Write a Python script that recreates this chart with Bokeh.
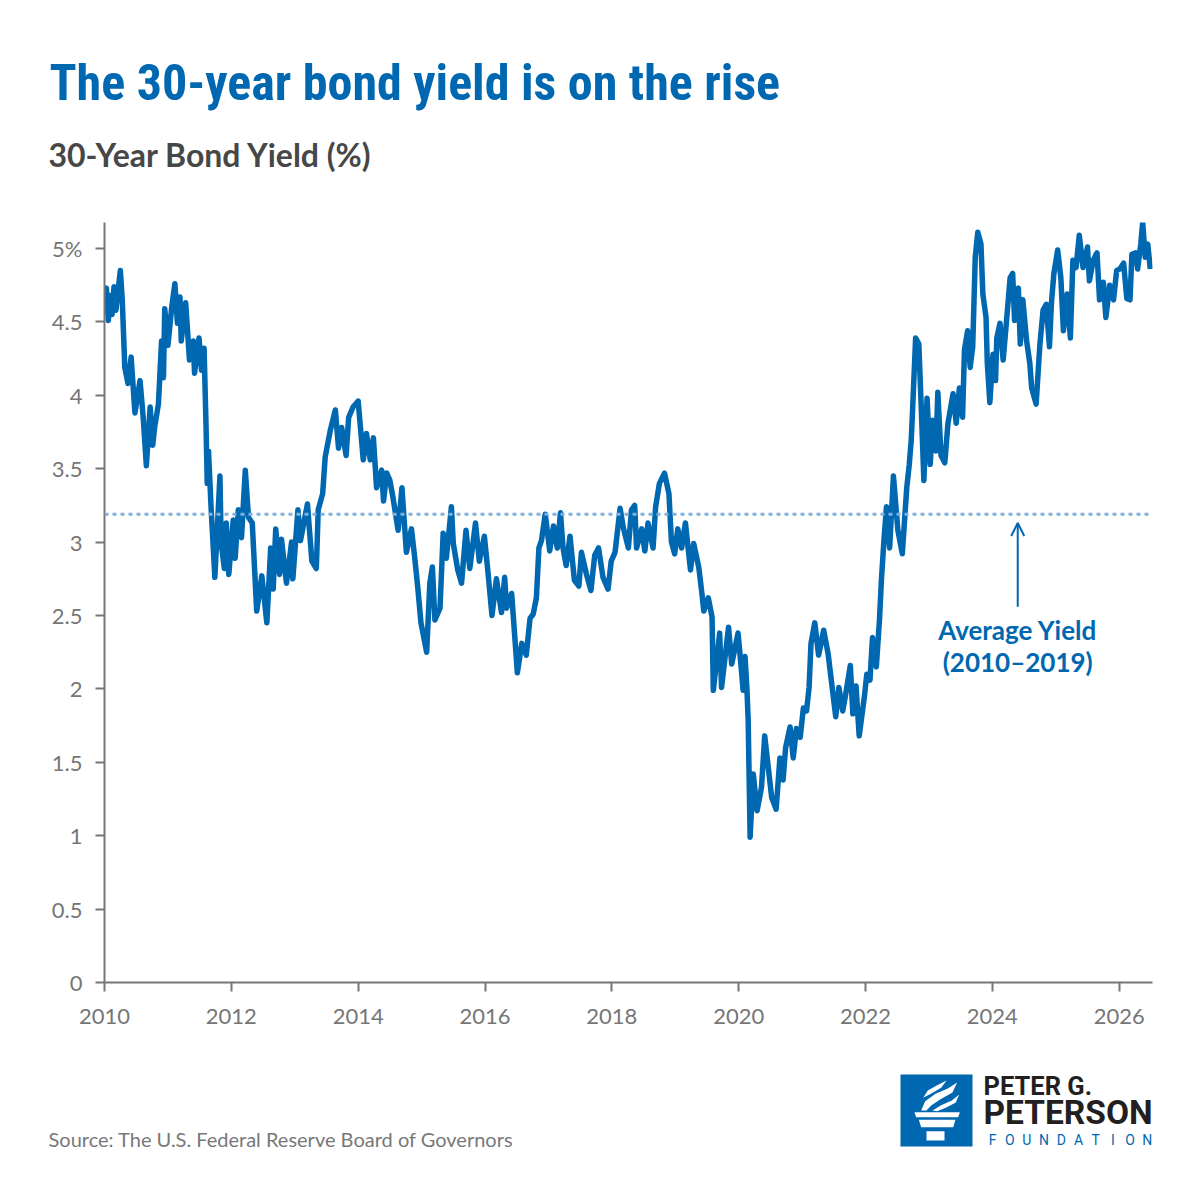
from bokeh.plotting import figure
from bokeh.layouts import column, row
from bokeh.models import Span, Label, Arrow, OpenHead, FixedTicker, Range1d
from bokeh.core.properties import value
from bokeh.embed import file_html
from bokeh.resources import INLINE

# 30-year Treasury yield (%), x in decimal years
years = [
    2010.01, 2010.03, 2010.06, 2010.09, 2010.12, 2010.15, 2010.18, 2010.21, 2010.25, 2010.28,
    2010.32, 2010.37, 2010.42, 2010.48, 2010.56, 2010.61, 2010.66, 2010.72, 2010.76, 2010.79,
    2010.85, 2010.90, 2010.93, 2010.95, 2011.00, 2011.06, 2011.11, 2011.15, 2011.19, 2011.21,
    2011.28, 2011.34, 2011.40, 2011.42, 2011.49, 2011.53, 2011.57, 2011.60, 2011.62, 2011.64,
    2011.68, 2011.74, 2011.78, 2011.82, 2011.84, 2011.89, 2011.92, 2011.96, 2012.03, 2012.06,
    2012.11, 2012.16, 2012.22, 2012.27, 2012.33, 2012.40, 2012.48, 2012.56, 2012.62, 2012.66,
    2012.70, 2012.76, 2012.79, 2012.87, 2012.95, 2012.97, 2013.05, 2013.09, 2013.20, 2013.27,
    2013.34, 2013.37, 2013.44, 2013.48, 2013.56, 2013.64, 2013.69, 2013.74, 2013.81, 2013.85,
    2013.92, 2014.00, 2014.08, 2014.13, 2014.19, 2014.24, 2014.29, 2014.37, 2014.40, 2014.45,
    2014.50, 2014.55, 2014.63, 2014.69, 2014.76, 2014.84, 2014.89, 2014.94, 2014.99, 2015.08,
    2015.13, 2015.17, 2015.21, 2015.29, 2015.34, 2015.39, 2015.47, 2015.50, 2015.57, 2015.63,
    2015.70, 2015.76, 2015.85, 2015.91, 2015.99, 2016.05, 2016.11, 2016.18, 2016.26, 2016.31,
    2016.34, 2016.42, 2016.47, 2016.51, 2016.58, 2016.65, 2016.71, 2016.76, 2016.81, 2016.85,
    2016.89, 2016.95, 2017.02, 2017.08, 2017.14, 2017.19, 2017.23, 2017.28, 2017.34, 2017.41,
    2017.48, 2017.52, 2017.60, 2017.67, 2017.73, 2017.79, 2017.86, 2017.94, 2017.99, 2018.05,
    2018.13, 2018.18, 2018.26, 2018.31, 2018.36, 2018.39, 2018.47, 2018.52, 2018.57, 2018.65,
    2018.69, 2018.75, 2018.83, 2018.90, 2018.94, 2018.99, 2019.04, 2019.10, 2019.16, 2019.24,
    2019.29, 2019.37, 2019.42, 2019.45, 2019.52, 2019.58, 2019.60, 2019.70, 2019.73, 2019.84,
    2019.89, 2019.99, 2020.02, 2020.07, 2020.10, 2020.13, 2020.15, 2020.18, 2020.23, 2020.29,
    2020.36, 2020.41, 2020.46, 2020.52, 2020.59, 2020.65, 2020.70, 2020.74, 2020.81, 2020.86,
    2020.91, 2020.97, 2021.02, 2021.07, 2021.11, 2021.14, 2021.20, 2021.26, 2021.34, 2021.41,
    2021.46, 2021.53, 2021.58, 2021.64, 2021.69, 2021.76, 2021.80, 2021.85, 2021.90, 2021.98,
    2022.02, 2022.07, 2022.11, 2022.17, 2022.22, 2022.25, 2022.29, 2022.33, 2022.38, 2022.44,
    2022.51, 2022.58, 2022.65, 2022.69, 2022.72, 2022.74, 2022.79, 2022.84, 2022.88, 2022.92,
    2022.97, 2023.02, 2023.06, 2023.11, 2023.14, 2023.19, 2023.25, 2023.30, 2023.38, 2023.43,
    2023.48, 2023.53, 2023.56, 2023.61, 2023.65, 2023.69, 2023.73, 2023.77, 2023.82, 2023.85,
    2023.90, 2023.92, 2023.96, 2024.01, 2024.05, 2024.07, 2024.12, 2024.17, 2024.22, 2024.28,
    2024.32, 2024.35, 2024.41, 2024.44, 2024.48, 2024.54, 2024.59, 2024.62, 2024.69, 2024.75,
    2024.80, 2024.85, 2024.90, 2024.93, 2024.97, 2025.03, 2025.08, 2025.12, 2025.18, 2025.23,
    2025.27, 2025.32, 2025.37, 2025.43, 2025.50, 2025.53, 2025.59, 2025.65, 2025.69, 2025.75,
    2025.79, 2025.85, 2025.91, 2025.96, 2026.01, 2026.07, 2026.12, 2026.17, 2026.20, 2026.26,
    2026.29, 2026.34, 2026.37, 2026.41, 2026.45, 2026.49,
]
yields = [
    4.62, 4.73, 4.51, 4.68, 4.55, 4.74, 4.58, 4.70, 4.85, 4.65,
    4.19, 4.08, 4.26, 3.88, 4.10, 3.85, 3.52, 3.92, 3.66, 3.78,
    3.94, 4.37, 4.12, 4.59, 4.34, 4.60, 4.76, 4.49, 4.67, 4.37,
    4.63, 4.24, 4.37, 4.15, 4.39, 4.17, 4.32, 3.81, 3.40, 3.62,
    3.24, 2.76, 3.10, 3.45, 2.99, 2.82, 3.13, 2.78, 3.15, 2.89,
    3.22, 3.03, 3.49, 3.17, 3.13, 2.53, 2.77, 2.45, 2.96, 2.68,
    3.09, 2.78, 3.02, 2.72, 3.00, 2.75, 3.22, 3.01, 3.26, 2.87,
    2.82, 3.22, 3.33, 3.58, 3.76, 3.90, 3.64, 3.78, 3.59, 3.85,
    3.92, 3.96, 3.56, 3.74, 3.56, 3.71, 3.37, 3.49, 3.28, 3.47,
    3.42, 3.30, 3.08, 3.37, 2.93, 3.09, 2.90, 2.69, 2.45, 2.25,
    2.72, 2.83, 2.47, 2.55, 3.06, 2.89, 3.24, 2.99, 2.81, 2.72,
    3.08, 2.82, 3.13, 2.87, 3.04, 2.78, 2.50, 2.75, 2.52, 2.76,
    2.55, 2.65, 2.35, 2.11, 2.31, 2.23, 2.48, 2.51, 2.62, 2.96,
    3.01, 3.19, 2.94, 3.11, 2.96, 3.20, 2.96, 2.84, 3.04, 2.74,
    2.70, 2.93, 2.78, 2.67, 2.91, 2.96, 2.76, 2.68, 2.87, 2.93,
    3.23, 3.10, 2.96, 3.22, 3.25, 2.96, 3.09, 2.94, 3.13, 2.96,
    3.24, 3.40, 3.47, 3.33, 3.00, 2.92, 3.09, 2.96, 3.13, 2.81,
    2.99, 2.83, 2.65, 2.53, 2.62, 2.49, 1.99, 2.38, 2.01, 2.42,
    2.17, 2.38, 2.24, 1.99, 2.22, 2.00, 1.78, 0.99, 1.42, 1.17,
    1.33, 1.68, 1.49, 1.26, 1.18, 1.53, 1.38, 1.60, 1.74, 1.53,
    1.73, 1.67, 1.87, 1.85, 2.01, 2.31, 2.45, 2.23, 2.40, 2.24,
    2.06, 1.81, 2.01, 1.85, 1.97, 2.16, 1.83, 2.02, 1.68, 1.94,
    2.10, 2.06, 2.35, 2.15, 2.47, 2.74, 3.01, 3.24, 2.96, 3.45,
    3.08, 2.92, 3.37, 3.53, 3.69, 3.88, 4.39, 4.35, 3.90, 3.42,
    3.98, 3.53, 3.83, 3.62, 4.02, 3.59, 3.54, 3.81, 4.01, 3.81,
    4.05, 3.85, 4.31, 4.44, 4.19, 4.33, 4.94, 5.11, 5.03, 4.69,
    4.53, 4.22, 3.95, 4.28, 4.10, 4.39, 4.49, 4.24, 4.49, 4.80,
    4.83, 4.51, 4.73, 4.35, 4.65, 4.37, 4.22, 4.05, 3.94, 4.35,
    4.58, 4.62, 4.33, 4.62, 4.83, 4.99, 4.80, 4.44, 4.69, 4.39,
    4.92, 4.87, 5.09, 4.87, 5.01, 4.78, 4.92, 4.97, 4.65, 4.77,
    4.53, 4.75, 4.65, 4.85, 4.86, 4.90, 4.66, 4.65, 4.96, 4.97,
    4.86, 5.03, 5.18, 4.94, 5.03, 4.86,
]

avg_yield = 3.19  # average 2010-2019

x_ticks = [2010, 2012, 2014, 2016, 2018, 2020, 2022, 2024, 2026]
x_tick_labels = ["2010", "2012", "2014", "2016", "2018", "2020", "2022", "2024", "2026"]
y_ticks = [0, 0.5, 1, 1.5, 2, 2.5, 3, 3.5, 4, 4.5, 5]
y_tick_labels = ["0", "0.5", "1", "1.5", "2", "2.5", "3", "3.5", "4", "4.5", "5%"]

BLUE = "#0067b1"
AXIS = "#767676"
W = 1200


def blank(height, top):
    # a figure whose frame fills it, in page pixels (y grows downward)
    f = figure(width=W, height=height, x_range=Range1d(0, W),
               y_range=Range1d(top + height, top), x_axis_type=None, y_axis_type=None,
               output_backend="svg", toolbar_location=None,
               min_border=0, min_border_left=0, min_border_right=0,
               min_border_top=0, min_border_bottom=0)
    f.outline_line_color = None
    f.xgrid.visible = False
    f.ygrid.visible = False
    return f


# header
head = blank(200, 0)
head.text(x=[49], y=[82], text=["The 30-year bond yield is on the rise"],
          text_font=value("Roboto Condensed"), text_font_style="bold",
          text_font_size="50px", text_color=BLUE, text_baseline="middle")
head.text(x=[48], y=[154], text=["30-Year Bond Yield (%)"],
          text_font=value("Lato"), text_font_style="bold",
          text_font_size="32px", text_color="#474747", text_baseline="middle")

# main chart
p = figure(width=W, height=850,
           x_range=Range1d(2010, 2026.525), y_range=Range1d(0, 5.177),
           output_backend="svg", toolbar_location=None,
           min_border_left=104, min_border_right=48,
           min_border_top=22, min_border_bottom=68)
p.outline_line_color = None
p.xgrid.visible = False
p.ygrid.visible = False

for ax in (p.xaxis[0], p.yaxis[0]):
    ax.axis_line_color = AXIS
    ax.axis_line_width = 2
    ax.major_tick_line_color = AXIS
    ax.major_tick_line_width = 2
    ax.major_tick_in = 0
    ax.major_tick_out = 9
    ax.minor_tick_line_color = None
    ax.major_label_text_font = "Lato"
    ax.major_label_text_font_size = "22px"
    ax.major_label_text_color = AXIS

p.xaxis.ticker = FixedTicker(ticks=x_ticks)
p.xaxis.major_label_overrides = dict(zip(x_ticks, x_tick_labels))
p.xaxis.major_label_standoff = 17
p.yaxis.ticker = FixedTicker(ticks=y_ticks)
p.yaxis.major_label_overrides = dict(zip(y_ticks, y_tick_labels))
p.yaxis.major_label_standoff = 13

p.add_layout(Span(location=avg_yield, dimension="width", line_color="#7fb1dc",
                  line_width=3, line_dash="4 4"))
p.line(years, yields, line_color=BLUE, line_width=5.5, line_join="round")

p.add_layout(Arrow(end=OpenHead(size=13, line_color=BLUE, line_width=2),
                   x_start=2024.40, y_start=2.56, x_end=2024.40, y_end=3.13,
                   line_color=BLUE, line_width=2))
for y, txt in ((2.40, "Average Yield"), (2.18, "(2010\u20132019)")):
    p.add_layout(Label(x=2024.40, y=y, text=txt, text_align="center",
                       text_baseline="middle", text_font="Lato", text_font_style="bold",
                       text_font_size="26px", text_color=BLUE))

# footer: source and logo
foot = blank(142, 1050)
foot.text(x=[48], y=[1138], text=["Source: The U.S. Federal Reserve Board of Governors"],
          text_font=value("Lato"), text_font_size="20px", text_color="#787878",
          text_baseline="middle")
foot.quad(left=[900], right=[972], top=[1074], bottom=[1146], fill_color=BLUE, line_color=None)


def lp(pts):
    return [890 + a / 3 for a, b in pts], [1060 + b / 3 for a, b in pts]


torch = [
    [(72, 155), (208, 155), (203, 170), (77, 170)],
    [(85, 178), (195, 178), (188, 200), (92, 200)],
    [(108, 212), (162, 212), (162, 240), (108, 240)],
    [(92, 150), (104, 122), (135, 100), (172, 84), (200, 66), (186, 96), (150, 116), (122, 135), (108, 150)],
    [(98, 112), (112, 90), (140, 74), (168, 60), (152, 82), (124, 98)],
    [(126, 150), (152, 134), (184, 120), (206, 102), (196, 126), (166, 142), (140, 152)],
]
txs, tys = zip(*[lp(s) for s in torch])
foot.patches(list(txs), list(tys), fill_color="white", line_color=None)

foot.text(x=[983], y=[1085], text=["PETER G."], text_font=value("Roboto"),
          text_font_style="bold", text_font_size="25.5px", text_color="#231f20",
          text_baseline="middle")
foot.text(x=[983], y=[1112], text=["PETERSON"], text_font=value("Roboto"),
          text_font_style="bold", text_font_size="33.5px", text_color="#231f20",
          text_baseline="middle")
letters = list("FOUNDATION")
foot.text(x=[992 + i * 17.2 for i in range(len(letters))], y=[1139] * len(letters),
          text=letters, text_font=value("Roboto"), text_font_size="14px",
          text_color=BLUE, text_align="center", text_baseline="middle")

page = column(row(head), p, row(foot), spacing=0)
open("out.html", "w").write(file_html(page, INLINE))
